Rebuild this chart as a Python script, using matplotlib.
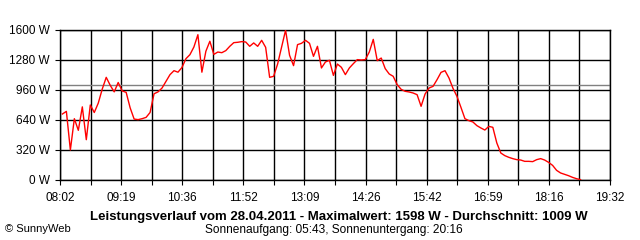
import numpy as np
import matplotlib
matplotlib.use("Agg")
import matplotlib.pyplot as plt

plt.rcParams['font.family'] = ['Liberation Sans', 'DejaVu Sans']

# Leistung in W, alle 5 Minuten ab 08:05
start_time = "08:05"
step_min = 5
watts = [704, 732, 320, 654, 530, 780, 430, 800, 720, 820,
         970, 1095, 1010, 940, 1040, 950, 935, 770, 650, 644,
         654, 668, 720, 920, 940, 981, 1053, 1124, 1166, 1150,
         1200, 1294, 1337, 1419, 1550, 1150, 1373, 1480, 1340, 1365,
         1358, 1380, 1426, 1465, 1469, 1476, 1472, 1426, 1462, 1426,
         1490, 1415, 1095, 1106, 1237, 1415, 1598, 1330, 1220, 1444,
         1458, 1490, 1458, 1319, 1426, 1195, 1259, 1277, 1116, 1237,
         1202, 1124, 1195, 1241, 1284, 1280, 1284, 1365, 1500, 1273,
         1301, 1188, 1131, 1106, 1017, 967, 946, 939, 928, 910,
         786, 917, 981, 999, 1070, 1148, 1166, 1088, 978, 892,
         775, 654, 633, 619, 580, 555, 533, 572, 562, 395,
         288, 260, 242, 228, 217, 213, 199, 199, 196, 217,
         228, 213, 188, 156, 103, 75, 60, 46, 28, 14, 4]

durchschnitt = 1009
maximalwert = 1598
datum = "28.04.2011"
sonnenaufgang = "05:43"
sonnenuntergang = "20:16"

x_labels = ["08:02", "09:19", "10:36", "11:52", "13:09",
            "14:26", "15:42", "16:59", "18:16", "19:32"]
y_ticks = [0, 320, 640, 960, 1280, 1600]


def to_min(s):
    h, m = s.split(":")
    return int(h) * 60 + int(m)


t0 = to_min(start_time)
zeiten = [t0 + i * step_min for i in range(len(watts))]

x_min = to_min(x_labels[0])
x_max = to_min(x_labels[-1])

fig = plt.figure(figsize=(6.4, 2.4), dpi=100)
ax = fig.add_axes([60 / 640, 60 / 240, 550 / 640, 150 / 240])

grid_x = np.linspace(x_min, x_max, 19)
for gx in grid_x:
    ax.axvline(gx, color='black', lw=1, zorder=1)
for gy in y_ticks:
    ax.axhline(gy, color='black', lw=1, zorder=1)

ax.axhline(durchschnitt, color='#808080', lw=1, zorder=2)
ax.plot(zeiten, watts, color='#ff0000', lw=1, zorder=3)

ax.set_xlim(x_min, x_max)
ax.set_ylim(0, 1600)
ax.set_xticks(grid_x)
ax.set_xticklabels([x_labels[i // 2] if i % 2 == 0 else "" for i in range(19)])
ax.set_yticks(y_ticks)
ax.set_yticklabels(["%d W" % v for v in y_ticks])
ax.tick_params(axis='both', length=3.8, width=0.8, color='black',
               labelsize=8.5, pad=3.5)
ax.tick_params(axis='x', pad=4.5)
for s in ax.spines.values():
    s.set_linewidth(1)
    s.set_color('black')

fig.text(339 / 640, 1 - 217 / 240,
         "Leistungsverlauf vom %s - Maximalwert: %d W - Durchschnitt: %d W"
         % (datum, maximalwert, durchschnitt),
         ha='center', va='center', fontsize=9.5, fontweight='bold')
fig.text(334 / 640, 1 - 229.5 / 240,
         "Sonnenaufgang: %s, Sonnenuntergang: %s" % (sonnenaufgang, sonnenuntergang),
         ha='center', va='center', fontsize=8.6)
fig.text(5 / 640, 1 - 229.5 / 240, "© SunnyWeb",
         ha='left', va='center', fontsize=8)

fig.savefig("out.png", dpi=100)
